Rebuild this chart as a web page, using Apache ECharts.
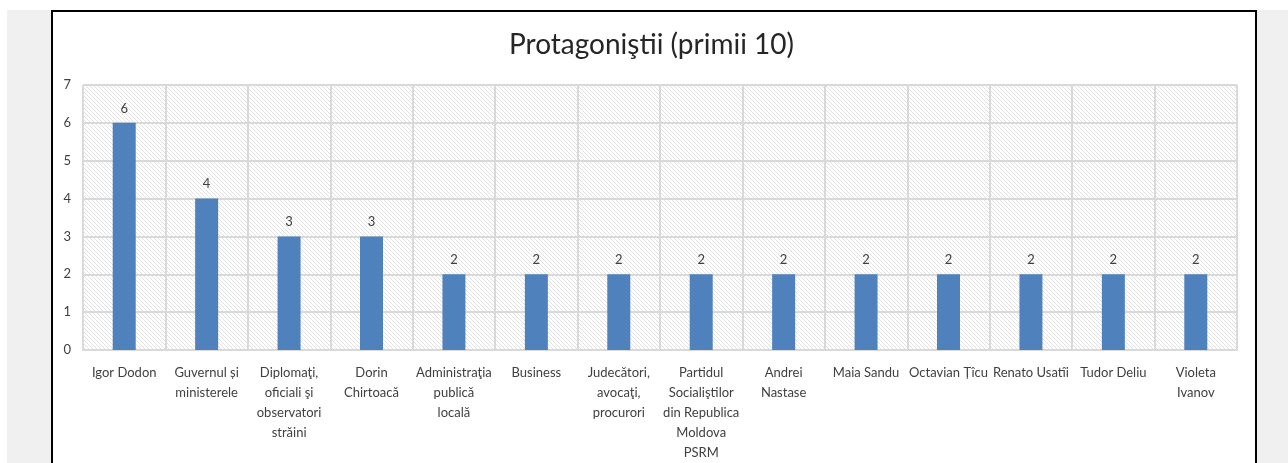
<!DOCTYPE html>
<html>
<head>
<meta charset="utf-8">
<script src="https://cdn.jsdelivr.net/npm/echarts@6/dist/echarts.min.js"></script>
<style>
  html, body { margin: 0; padding: 0; background: #ffffff; }
  #page { position: absolute; left: 7px; top: 10px; width: 1281px; height: 453px; background: #f0f0f0; }
  #frame { position: absolute; left: 51px; top: 10px; width: 1202px; height: 470px; background: #ffffff; border: 2px solid #000000; }
  #chart { position: absolute; left: 0; top: 0; width: 1288px; height: 463px; }
</style>
</head>
<body>
<div id="page"></div>
<div id="frame"></div>
<div id="chart"></div>
<script>
// Protagonists by number of mentions (top 10)
const categories = [
  'Igor Dodon',
  'Guvernul și\nministerele',
  'Diplomaţi,\noficiali şi\nobservatori\nstrăini',
  'Dorin\nChirtoacă',
  'Administraţia\npublică\nlocală',
  'Business',
  'Judecători,\navocaţi,\nprocurori',
  'Partidul\nSocialiştilor\ndin Republica\nMoldova\nPSRM',
  'Andrei\nNastase',
  'Maia Sandu',
  'Octavian Țîcu',
  'Renato Usatîi',
  'Tudor Deliu',
  'Violeta\nIvanov'
];
const mentions = [6, 4, 3, 3, 2, 2, 2, 2, 2, 2, 2, 2, 2, 2];
const yTicks = { min: 0, max: 7, interval: 1 };

// light diagonal hatch for the plot background
function hatchTile() {
  const c = document.createElement('canvas');
  c.width = 4; c.height = 4;
  const g = c.getContext('2d');
  g.fillStyle = '#ffffff';
  g.fillRect(0, 0, 4, 4);
  g.fillStyle = '#e1e1e1';
  for (let i = 0; i < 4; i++) g.fillRect(i, i, 1, 1);
  return c;
}

const chart = echarts.init(document.getElementById('chart'), null, { renderer: 'canvas' });
const font = 'Lato, "Open Sans", sans-serif';

chart.setOption({
  animation: false,
  title: {
    text: 'Protagoniştii (primii 10)',
    left: 504,
    top: 26,
    textStyle: { fontFamily: font, fontSize: 28, fontWeight: 'normal', color: '#262626' }
  },
  grid: {
    left: 83, right: 51, top: 85, bottom: 111,
    show: true,
    borderWidth: 0,
    backgroundColor: { image: hatchTile(), repeat: 'repeat' }
  },
  xAxis: {
    type: 'category',
    data: categories,
    axisTick: { show: false },
    axisLine: { lineStyle: { color: '#d9d9d9', width: 2 } },
    splitLine: { show: true, lineStyle: { color: '#d9d9d9', width: 2 } },
    axisLabel: {
      interval: 0,
      margin: 13,
      fontFamily: font,
      fontSize: 13,
      lineHeight: 20,
      color: '#404040',
      align: 'center'
    }
  },
  yAxis: {
    type: 'value',
    min: yTicks.min,
    max: yTicks.max,
    interval: yTicks.interval,
    axisLine: { show: false },
    axisTick: { show: false },
    splitLine: { lineStyle: { color: '#d9d9d9', width: 2 } },
    axisLabel: { fontFamily: font, fontSize: 13, color: '#404040', margin: 12 }
  },
  series: [{
    type: 'bar',
    data: mentions,
    barWidth: 23,
    itemStyle: { color: '#4f81bd' },
    label: {
      show: true,
      position: 'top',
      distance: 8,
      fontFamily: font,
      fontSize: 13,
      color: '#404040'
    }
  }]
});
</script>
</body>
</html>
